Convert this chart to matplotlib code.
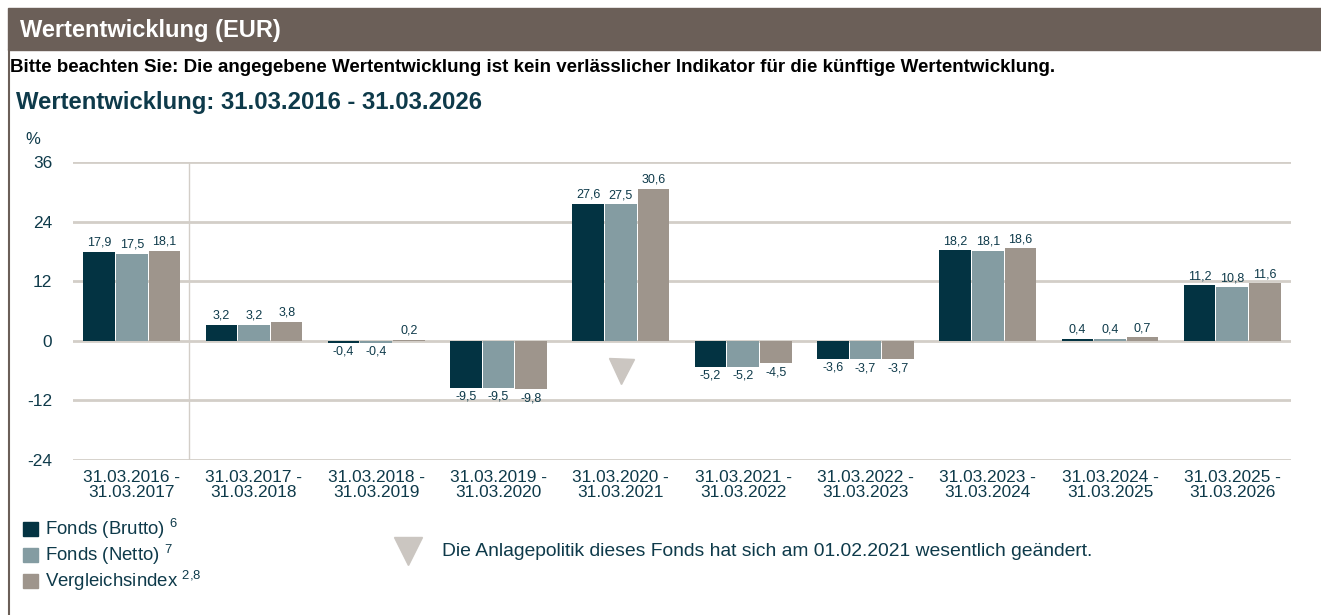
import matplotlib
matplotlib.use('Agg')
import matplotlib.pyplot as plt
import numpy as np

plt.rcParams['font.family'] = ['Liberation Sans', 'DejaVu Sans']
plt.rcParams['mathtext.fontset'] = 'custom'
plt.rcParams['mathtext.rm'] = 'Liberation Sans'

# data
periods = ['31.03.2016 -\n31.03.2017', '31.03.2017 -\n31.03.2018', '31.03.2018 -\n31.03.2019',
           '31.03.2019 -\n31.03.2020', '31.03.2020 -\n31.03.2021', '31.03.2021 -\n31.03.2022',
           '31.03.2022 -\n31.03.2023', '31.03.2023 -\n31.03.2024', '31.03.2024 -\n31.03.2025',
           '31.03.2025 -\n31.03.2026']
brutto = [17.9, 3.2, -0.4, -9.5, 27.6, -5.2, -3.6, 18.2, 0.4, 11.2]
netto = [17.5, 3.2, -0.4, -9.5, 27.5, -5.2, -3.7, 18.1, 0.4, 10.8]
vergleich = [18.1, 3.8, 0.2, -9.8, 30.6, -4.5, -3.7, 18.6, 0.7, 11.6]
series_names = [r'Fonds (Brutto) $^{6}$', r'Fonds (Netto) $^{7}$', r'Vergleichsindex $^{2{,}8}$']
y_ticks = [-24, -12, 0, 12, 24, 36]
marker_period = 4      # Anlagepolitik changed in this period
marker_value = -6

c_brutto = '#033342'
c_netto = '#849ca2'
c_index = '#9e958c'
c_text = '#0e3a4a'
c_grid = '#d3cec8'
c_head = '#6b5f58'
c_tri = '#cbc6c1'

W, H = 1321, 615
fig = plt.figure(figsize=(W / 100, H / 100), dpi=100)

# header band
fig.patches.append(plt.Rectangle((8 / W, 1 - 50 / H), 1, 42 / H, transform=fig.transFigure,
                                 color=c_head, zorder=0))
fig.add_artist(plt.Line2D([9 / W, 9 / W], [0, 1 - 50 / H], transform=fig.transFigure,
                          color=c_head, lw=1.5))
fig.text(20 / W, 1 - 31 / H, 'Wertentwicklung (EUR)', color='white', fontsize=17,
         fontweight='bold', va='center')
fig.text(10 / W, 1 - 68 / H,
         'Bitte beachten Sie: Die angegebene Wertentwicklung ist kein verlässlicher Indikator für die künftige Wertentwicklung.',
         color='black', fontsize=13.5, fontweight='bold', va='center')
fig.text(16 / W, 1 - 102 / H, 'Wertentwicklung: 31.03.2016 - 31.03.2026', color=c_text,
         fontsize=17.2, fontweight='bold', va='center')
fig.text(25 / W, 1 - 140 / H, '%', color=c_text, fontsize=12, va='center')

ax = fig.add_axes([73 / W, 1 - 460 / H, (1291 - 73) / W, (460 - 162) / H])
x = np.arange(len(periods))
step = 0.267
w = 0.259
for i, (vals, col) in enumerate([(brutto, c_brutto), (netto, c_netto), (vergleich, c_index)]):
    xs = x + (i - 1) * step
    ax.bar(xs, vals, w, color=col, linewidth=0, zorder=3)
    for xi, v in zip(xs, vals):
        lbl = ('%.1f' % v).replace('.', ',')
        if v >= 0:
            ax.text(xi, v + 0.6, lbl, ha='center', va='bottom', fontsize=9, color=c_text)
        else:
            ax.text(xi, v - 0.6, lbl, ha='center', va='top', fontsize=9, color=c_text)

ax.plot([marker_period], [marker_value], marker='v', markersize=18, color=c_tri, zorder=4)
ax.axvline(0.47, color=c_grid, lw=1, zorder=1)

ax.set_xlim(-0.48, len(periods) - 0.52)
ax.set_ylim(-24, 36)
ax.set_yticks(y_ticks)
ax.set_yticklabels([str(t) for t in y_ticks])
ax.set_xticks(x)
ax.set_xticklabels(periods, linespacing=1.0)
ax.tick_params(length=0, labelsize=12.4, labelcolor=c_text)
ax.tick_params(axis='y', pad=15)
ax.tick_params(axis='x', pad=7)
ax.grid(axis='y', color=c_grid, lw=2, zorder=0)
for s in ax.spines.values():
    s.set_visible(False)

# legend
for k, (name, col) in enumerate(zip(series_names, [c_brutto, c_netto, c_index])):
    yy = 1 - (529 + 26 * k) / H
    fig.patches.append(plt.Rectangle((23 / W, yy - 7 / H), 15 / W, 14 / H,
                                     transform=fig.transFigure, color=col))
    fig.text(45 / W, yy, name, fontsize=13.4, color=c_text, va='center')

fig.add_artist(plt.Line2D([408 / W], [1 - 551 / H], marker='v', markersize=20, color=c_tri,
                          transform=fig.transFigure))
fig.text(442 / W, 1 - 551 / H,
         'Die Anlagepolitik dieses Fonds hat sich am 01.02.2021 wesentlich geändert.',
         fontsize=13.9, color=c_text, va='center')

fig.savefig('out.png', dpi=100)
